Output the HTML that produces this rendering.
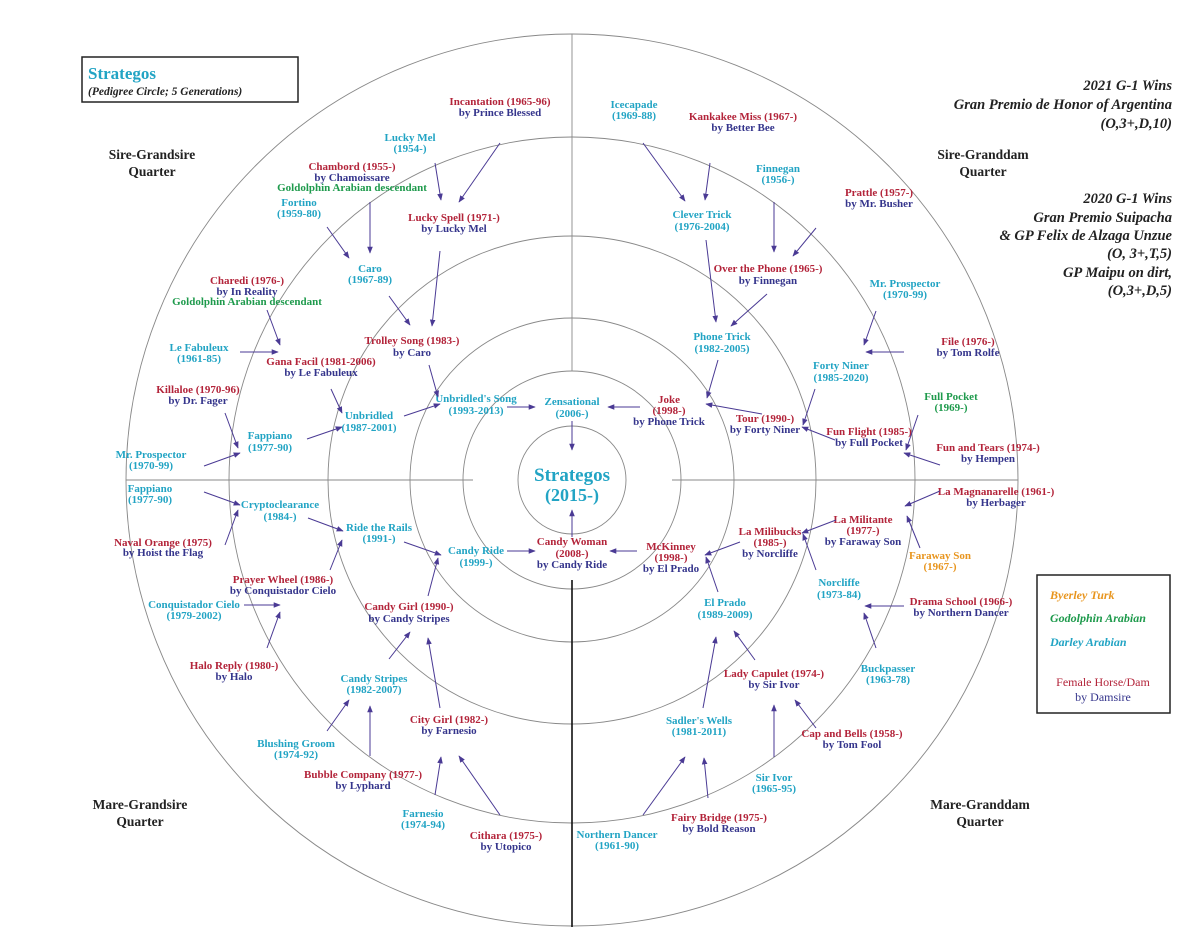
<!DOCTYPE html>
<html><head><meta charset="utf-8"><style>
html,body{margin:0;padding:0;background:#fff}
svg{display:block}
text{font-family:"Liberation Serif",serif;font-weight:bold;font-size:11px;text-anchor:middle}
.c{fill:#22a4c4}.r{fill:#b3243a}.n{fill:#35358c}.g{fill:#1e9a4c}.o{fill:#e8951e}.k{fill:#222}
.q{font-size:13.5px}
.i{font-style:italic;font-size:14.5px;text-anchor:end}
</style></head><body>
<svg width="1200" height="927" viewBox="0 0 1200 927" xmlns="http://www.w3.org/2000/svg">
<defs><marker id="a" viewBox="0 0 10 10" refX="9" refY="5" markerWidth="7" markerHeight="7" orient="auto"><path d="M0,1 L10,5 L0,9 z" fill="#4a3a94"/></marker></defs>
<g fill="none" stroke="#888" stroke-width="0.9">
<circle cx="572" cy="480" r="446"/><circle cx="572" cy="480" r="343"/><circle cx="572" cy="480" r="244"/><circle cx="572" cy="480" r="162"/><circle cx="572" cy="480" r="109"/><circle cx="572" cy="480" r="54"/>
<line x1="126" y1="480" x2="473" y2="480"/><line x1="672" y1="480" x2="1018" y2="480"/><line x1="572" y1="34" x2="572" y2="371"/>
</g>
<line x1="572" y1="580" x2="572" y2="927" stroke="#111" stroke-width="1.6"/>
<rect x="82" y="57" width="216" height="45" fill="none" stroke="#222" stroke-width="1.5"/>
<text x="88" y="79" class="c" style="text-anchor:start;font-size:17px">Strategos</text>
<text x="88" y="95" class="k" style="text-anchor:start;font-style:italic;font-size:11.5px">(Pedigree Circle; 5 Generations)</text>
<g class="k">
<text x="1172" y="90" class="i">2021 G-1 Wins</text><text x="1172" y="109" class="i">Gran Premio de Honor of Argentina</text><text x="1172" y="128" class="i">(O,3+,D,10)</text>
<text x="1172" y="203" class="i">2020 G-1 Wins</text><text x="1172" y="222" class="i">Gran Premio Suipacha</text><text x="1172" y="240" class="i">&amp; GP Felix de Alzaga Unzue</text><text x="1172" y="258" class="i">(O, 3+,T,5)</text><text x="1172" y="277" class="i">GP Maipu on dirt,</text><text x="1172" y="295" class="i">(O,3+,D,5)</text>
<text x="152" y="159" class="q">Sire-Grandsire</text><text x="152" y="176" class="q">Quarter</text>
<text x="983" y="159" class="q">Sire-Granddam</text><text x="983" y="176" class="q">Quarter</text>
<text x="140" y="809" class="q">Mare-Grandsire</text><text x="140" y="826" class="q">Quarter</text>
<text x="980" y="809" class="q">Mare-Granddam</text><text x="980" y="826" class="q">Quarter</text>
</g>
<rect x="1037" y="575" width="133" height="138" fill="none" stroke="#222" stroke-width="1.5"/>
<text x="1050" y="599" class="o" style="text-anchor:start;font-style:italic;font-size:12px">Byerley Turk</text>
<text x="1050" y="622" class="g" style="text-anchor:start;font-style:italic;font-size:12px">Godolphin Arabian</text>
<text x="1050" y="646" class="c" style="text-anchor:start;font-style:italic;font-size:12px">Darley Arabian</text>
<text x="1103" y="686" class="r" style="font-weight:normal;font-size:12px">Female Horse/Dam</text>
<text x="1103" y="701" class="n" style="font-weight:normal;font-size:12px">by Damsire</text>
<text x="572" y="481" class="c" style="font-size:19px">Strategos</text><text x="572" y="501" class="c" style="font-size:18px">(2015-)</text>
<g>
<text x="572" y="405" class="c">Zensational</text><text x="572" y="417" class="c">(2006-)</text>
<text x="572" y="545" class="r">Candy Woman</text><text x="572" y="557" class="r">(2008-)</text><text x="572" y="568" class="n">by Candy Ride</text>
<text x="476" y="402" class="c">Unbridled's Song</text><text x="476" y="414" class="c">(1993-2013)</text>
<text x="669" y="403" class="r">Joke</text><text x="669" y="414" class="r">(1998-)</text><text x="669" y="425" class="n">by Phone Trick</text>
<text x="476" y="554" class="c">Candy Ride</text><text x="476" y="566" class="c">(1999-)</text>
<text x="671" y="550" class="r">McKinney</text><text x="671" y="561" class="r">(1998-)</text><text x="671" y="572" class="n">by El Prado</text>
<text x="369" y="419" class="c">Unbridled</text><text x="369" y="431" class="c">(1987-2001)</text>
<text x="412" y="344" class="r">Trolley Song (1983-)</text><text x="412" y="356" class="n">by Caro</text>
<text x="722" y="340" class="c">Phone Trick</text><text x="722" y="352" class="c">(1982-2005)</text>
<text x="765" y="422" class="r">Tour (1990-)</text><text x="765" y="433" class="n">by Forty Niner</text>
<text x="379" y="531" class="c">Ride the Rails</text><text x="379" y="542" class="c">(1991-)</text>
<text x="409" y="610" class="r">Candy Girl (1990-)</text><text x="409" y="622" class="n">by Candy Stripes</text>
<text x="725" y="606" class="c">El Prado</text><text x="725" y="618" class="c">(1989-2009)</text>
<text x="770" y="535" class="r">La Milibucks</text><text x="770" y="546" class="r">(1985-)</text><text x="770" y="557" class="n">by Norcliffe</text>
<text x="370" y="272" class="c">Caro</text><text x="370" y="283" class="c">(1967-89)</text>
<text x="454" y="221" class="r">Lucky Spell (1971-)</text><text x="454" y="232" class="n">by Lucky Mel</text>
<text x="321" y="365" class="r">Gana Facil (1981-2006)</text><text x="321" y="376" class="n">by Le Fabuleux</text>
<text x="270" y="439" class="c">Fappiano</text><text x="270" y="451" class="c">(1977-90)</text>
<text x="702" y="218" class="c">Clever Trick</text><text x="702" y="230" class="c">(1976-2004)</text>
<text x="768" y="272" class="r">Over the Phone (1965-)</text><text x="768" y="284" class="n">by Finnegan</text>
<text x="841" y="369" class="c">Forty Niner</text><text x="841" y="381" class="c">(1985-2020)</text>
<text x="869" y="435" class="r">Fun Flight (1985-)</text><text x="869" y="446" class="n">by Full Pocket</text>
<text x="280" y="508" class="c">Cryptoclearance</text><text x="280" y="520" class="c">(1984-)</text>
<text x="283" y="583" class="r">Prayer Wheel (1986-)</text><text x="283" y="594" class="n">by Conquistador Cielo</text>
<text x="374" y="682" class="c">Candy Stripes</text><text x="374" y="693" class="c">(1982-2007)</text>
<text x="449" y="723" class="r">City Girl (1982-)</text><text x="449" y="734" class="n">by Farnesio</text>
<text x="699" y="724" class="c">Sadler's Wells</text><text x="699" y="735" class="c">(1981-2011)</text>
<text x="774" y="677" class="r">Lady Capulet (1974-)</text><text x="774" y="688" class="n">by Sir Ivor</text>
<text x="863" y="523" class="r">La Militante</text><text x="863" y="534" class="r">(1977-)</text><text x="863" y="545" class="n">by Faraway Son</text>
<text x="839" y="586" class="c">Norcliffe</text><text x="839" y="598" class="c">(1973-84)</text>
<text x="500" y="105" class="r">Incantation (1965-96)</text><text x="500" y="116" class="n">by Prince Blessed</text>
<text x="410" y="141" class="c">Lucky Mel</text><text x="410" y="152" class="c">(1954-)</text>
<text x="352" y="170" class="r">Chambord (1955-)</text><text x="352" y="181" class="n">by Chamoissare</text><text x="352" y="191" class="g">Goldolphin Arabian descendant</text>
<text x="299" y="206" class="c">Fortino</text><text x="299" y="217" class="c">(1959-80)</text>
<text x="247" y="284" class="r">Charedi (1976-)</text><text x="247" y="295" class="n">by In Reality</text><text x="247" y="305" class="g">Goldolphin Arabian descendant</text>
<text x="199" y="351" class="c">Le Fabuleux</text><text x="199" y="362" class="c">(1961-85)</text>
<text x="198" y="393" class="r">Killaloe (1970-96)</text><text x="198" y="404" class="n">by Dr. Fager</text>
<text x="151" y="458" class="c">Mr. Prospector</text><text x="151" y="469" class="c">(1970-99)</text>
<text x="150" y="492" class="c">Fappiano</text><text x="150" y="503" class="c">(1977-90)</text>
<text x="163" y="546" class="r">Naval Orange (1975)</text><text x="163" y="556" class="n">by Hoist the Flag</text>
<text x="194" y="608" class="c">Conquistador Cielo</text><text x="194" y="619" class="c">(1979-2002)</text>
<text x="234" y="669" class="r">Halo Reply (1980-)</text><text x="234" y="680" class="n">by Halo</text>
<text x="296" y="747" class="c">Blushing Groom</text><text x="296" y="758" class="c">(1974-92)</text>
<text x="363" y="778" class="r">Bubble Company (1977-)</text><text x="363" y="789" class="n">by Lyphard</text>
<text x="423" y="817" class="c">Farnesio</text><text x="423" y="828" class="c">(1974-94)</text>
<text x="506" y="839" class="r">Cithara (1975-)</text><text x="506" y="850" class="n">by Utopico</text>
<text x="634" y="108" class="c">Icecapade</text><text x="634" y="119" class="c">(1969-88)</text>
<text x="743" y="120" class="r">Kankakee Miss (1967-)</text><text x="743" y="131" class="n">by Better Bee</text>
<text x="778" y="172" class="c">Finnegan</text><text x="778" y="183" class="c">(1956-)</text>
<text x="879" y="196" class="r">Prattle (1957-)</text><text x="879" y="207" class="n">by Mr. Busher</text>
<text x="905" y="287" class="c">Mr. Prospector</text><text x="905" y="298" class="c">(1970-99)</text>
<text x="968" y="345" class="r">File (1976-)</text><text x="968" y="356" class="n">by Tom Rolfe</text>
<text x="951" y="400" class="g">Full Pocket</text><text x="951" y="411" class="g">(1969-)</text>
<text x="988" y="451" class="r">Fun and Tears (1974-)</text><text x="988" y="462" class="n">by Hempen</text>
<text x="996" y="495" class="r">La Magnanarelle (1961-)</text><text x="996" y="506" class="n">by Herbager</text>
<text x="940" y="559" class="o">Faraway Son</text><text x="940" y="570" class="o">(1967-)</text>
<text x="961" y="605" class="r">Drama School (1966-)</text><text x="961" y="616" class="n">by Northern Dancer</text>
<text x="888" y="672" class="c">Buckpasser</text><text x="888" y="683" class="c">(1963-78)</text>
<text x="852" y="737" class="r">Cap and Bells (1958-)</text><text x="852" y="748" class="n">by Tom Fool</text>
<text x="774" y="781" class="c">Sir Ivor</text><text x="774" y="792" class="c">(1965-95)</text>
<text x="719" y="821" class="r">Fairy Bridge (1975-)</text><text x="719" y="832" class="n">by Bold Reason</text>
<text x="617" y="838" class="c">Northern Dancer</text><text x="617" y="849" class="c">(1961-90)</text>
</g>
<g stroke="#4a3a94" stroke-width="1" marker-end="url(#a)">
<line x1="572" y1="421" x2="572" y2="450"/>
<line x1="572" y1="537" x2="572" y2="510"/>
<line x1="507" y1="407" x2="535" y2="407"/>
<line x1="640" y1="407" x2="608" y2="407"/>
<line x1="507" y1="551" x2="535" y2="551"/>
<line x1="637" y1="551" x2="610" y2="551"/>
<line x1="404" y1="416" x2="440" y2="404"/>
<line x1="429" y1="365" x2="438" y2="397"/>
<line x1="718" y1="360" x2="707" y2="398"/>
<line x1="762" y1="414" x2="706" y2="404"/>
<line x1="404" y1="542" x2="441" y2="555"/>
<line x1="428" y1="596" x2="438" y2="558"/>
<line x1="718" y1="592" x2="706" y2="557"/>
<line x1="740" y1="542" x2="705" y2="555"/>
<line x1="389" y1="296" x2="410" y2="325"/>
<line x1="440" y1="251" x2="432" y2="326"/>
<line x1="331" y1="389" x2="342" y2="413"/>
<line x1="307" y1="439" x2="342" y2="427"/>
<line x1="706" y1="240" x2="716" y2="322"/>
<line x1="767" y1="294" x2="731" y2="326"/>
<line x1="815" y1="389" x2="803" y2="425"/>
<line x1="835" y1="440" x2="802" y2="427"/>
<line x1="308" y1="518" x2="343" y2="531"/>
<line x1="330" y1="570" x2="342" y2="540"/>
<line x1="389" y1="659" x2="410" y2="632"/>
<line x1="440" y1="708" x2="428" y2="638"/>
<line x1="703" y1="708" x2="716" y2="637"/>
<line x1="755" y1="660" x2="734" y2="631"/>
<line x1="836" y1="520" x2="802" y2="533"/>
<line x1="816" y1="570" x2="803" y2="534"/>
<line x1="876" y1="648" x2="864" y2="613"/>
<line x1="904" y1="606" x2="865" y2="606"/>
<line x1="816" y1="728" x2="795" y2="700"/>
<line x1="774" y1="757" x2="774" y2="705"/>
<line x1="435" y1="163" x2="441" y2="200"/>
<line x1="500" y1="143" x2="459" y2="202"/>
<line x1="370" y1="202" x2="370" y2="253"/>
<line x1="327" y1="227" x2="349" y2="258"/>
<line x1="267" y1="310" x2="280" y2="345"/>
<line x1="240" y1="352" x2="278" y2="352"/>
<line x1="225" y1="413" x2="238" y2="448"/>
<line x1="204" y1="466" x2="240" y2="453"/>
<line x1="204" y1="492" x2="240" y2="505"/>
<line x1="225" y1="545" x2="238" y2="510"/>
<line x1="244" y1="605" x2="280" y2="605"/>
<line x1="267" y1="648" x2="280" y2="612"/>
<line x1="327" y1="731" x2="349" y2="700"/>
<line x1="370" y1="756" x2="370" y2="706"/>
<line x1="435" y1="795" x2="441" y2="757"/>
<line x1="500" y1="815" x2="459" y2="756"/>
<line x1="643" y1="143" x2="685" y2="201"/>
<line x1="710" y1="163" x2="705" y2="200"/>
<line x1="774" y1="202" x2="774" y2="252"/>
<line x1="816" y1="228" x2="793" y2="256"/>
<line x1="876" y1="311" x2="864" y2="345"/>
<line x1="904" y1="352" x2="866" y2="352"/>
<line x1="918" y1="415" x2="906" y2="450"/>
<line x1="940" y1="465" x2="904" y2="453"/>
<line x1="940" y1="491" x2="905" y2="506"/>
<line x1="920" y1="548" x2="907" y2="516"/>
<line x1="643" y1="815" x2="685" y2="757"/>
<line x1="708" y1="798" x2="704" y2="758"/>
</g>
</svg>
</body></html>
